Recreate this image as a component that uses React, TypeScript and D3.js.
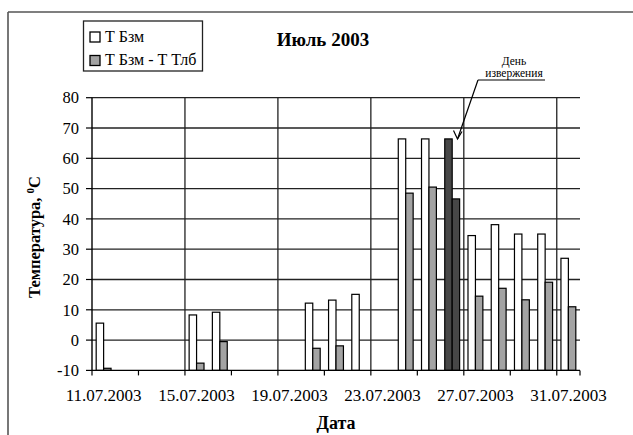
import React from "react";
import * as d3 from "d3";

const dates = [
  "11.07.2003", "12.07.2003", "13.07.2003", "14.07.2003", "15.07.2003",
  "16.07.2003", "17.07.2003", "18.07.2003", "19.07.2003", "20.07.2003",
  "21.07.2003", "22.07.2003", "23.07.2003", "24.07.2003", "25.07.2003",
  "26.07.2003", "27.07.2003", "28.07.2003", "29.07.2003", "30.07.2003",
  "31.07.2003",
];
const tBzm: (number | null)[] = [
  5.6, null, null, null, 8.3, 9.2, null, null, null, 12.2, 13.2, 15.1, null,
  66.4, 66.4, 66.4, 34.5, 38.1, 35.0, 35.0, 27.0,
];
const tDiff: (number | null)[] = [
  -9.3, null, null, null, -7.6, -0.5, null, null, null, -2.7, -1.9, null, null,
  48.5, 50.5, 46.6, 14.5, 17.1, 13.3, 19.1, 11.0,
];
const eruptionDate = "26.07.2003";
const yTicks = [-10, 0, 10, 20, 30, 40, 50, 60, 70, 80];
const seriesNames = ["Т Бзм", "Т Бзм - Т Тлб"];

const W = 633;
const H = 435;
const serif = "Liberation Serif, Times New Roman, serif";

export default function App() {
  const x = d3.scaleBand<string>().domain(dates).range([92, 580]).padding(0);
  const y = d3.scaleLinear().domain([-10, 80]).range([370.4, 97.7]);
  const bw = x.bandwidth();
  const barW = bw * 0.32;
  const off = (bw - 2 * barW) / 2;
  const base = y(-10);

  const gridColor = "#222";
  const grayFill = "#a3a3a3";
  const darkFill = "#474747";

  const boundaries = d3.range(0, dates.length + 1).map((i) => 92 + i * bw);
  const ts = { fontFamily: serif };

  return (
    <svg
      width={W}
      height={H}
      style={{ position: "absolute", left: 0, top: 0, background: "#fff", fontFamily: serif }}
    >
      <rect x={0} y={0} width={W} height={H} fill="#fff" />
      {/* outer frame */}
      <line x1={8} y1={12} x2={W} y2={12} stroke="#555" strokeWidth={1.6} />
      <line x1={8} y1={12} x2={8} y2={H} stroke="#555" strokeWidth={1.6} />

      {/* horizontal gridlines */}
      {yTicks.filter((t) => t > -10).map((t) => (
        <line key={"h" + t} x1={92} x2={580} y1={y(t)} y2={y(t)} stroke={gridColor} strokeWidth={1.3} />
      ))}
      {/* vertical gridlines */}
      {boundaries.filter((_, i) => i > 0 && i % 4 === 0).map((bx, i) => (
        <line key={"v" + i} x1={bx} x2={bx} y1={y(80)} y2={base} stroke={gridColor} strokeWidth={1.3} />
      ))}

      {/* bars */}
      {dates.map((d, i) => {
        const x0 = (x(d) as number) + off;
        const hl = d === eruptionDate;
        const v1 = tBzm[i];
        const v2 = tDiff[i];
        return (
          <g key={d}>
            {v1 !== null && (
              <rect x={x0} y={y(v1)} width={barW} height={base - y(v1)}
                fill={hl ? darkFill : "#fff"} stroke="#000" strokeWidth={1.2} />
            )}
            {v2 !== null && (
              <rect x={x0 + barW} y={y(v2)} width={barW} height={base - y(v2)}
                fill={hl ? darkFill : grayFill} stroke="#000" strokeWidth={1.2} />
            )}
          </g>
        );
      })}

      {/* axes */}
      <line x1={92} x2={92} y1={y(80)} y2={base} stroke="#000" strokeWidth={1.4} />
      <line x1={92} x2={580} y1={base} y2={base} stroke="#000" strokeWidth={1.4} />
      {yTicks.map((t) => (
        <g key={"yt" + t}>
          <line x1={86} x2={92} y1={y(t)} y2={y(t)} stroke="#000" strokeWidth={1.2} />
          <text style={ts} x={79} y={y(t)} dy="0.35em" textAnchor="end" fontSize={16.5}>{t}</text>
        </g>
      ))}
      {boundaries.filter((_, i) => i % 2 === 0 || i === dates.length).map((bx, i) => (
        <line key={"xt" + i} x1={bx} x2={bx} y1={base} y2={base + 5} stroke="#000" strokeWidth={1.2} />
      ))}
      {dates.filter((_, i) => i % 4 === 0).map((d) => (
        <text style={ts} key={"xl" + d} x={(x(d) as number) + bw / 2} y={401} textAnchor="middle" fontSize={17}>{d}</text>
      ))}

      {/* axis titles */}
      <text style={ts} x={336} y={429} textAnchor="middle" fontSize={18} fontWeight="bold">Дата</text>
      <text style={ts} transform="translate(40,237) rotate(-90)" textAnchor="middle" fontSize={16.5} fontWeight="bold">
        Температура, <tspan dy={-6} fontSize={11}>0</tspan><tspan dy={6}>C</tspan>
      </text>

      {/* title */}
      <text style={ts} x={323} y={46} textAnchor="middle" fontSize={19} fontWeight="bold">Июль 2003</text>

      {/* legend */}
      <rect x={83.5} y={21} width={119} height={50} fill="#fff" stroke="#222" strokeWidth={1.3} />
      <rect x={90} y={32} width={10} height={10} fill="#fff" stroke="#000" strokeWidth={1.3} />
      <text style={ts} x={105} y={41.5} fontSize={16}>{seriesNames[0]}</text>
      <rect x={90} y={55.5} width={10} height={10} fill={grayFill} stroke="#000" strokeWidth={1.3} />
      <text style={ts} x={105} y={65} fontSize={16}>{seriesNames[1]}</text>

      {/* annotation */}
      <text style={ts} x={514} y={65} textAnchor="middle" fontSize={11.5}>День</text>
      <text style={ts} x={514} y={77} textAnchor="middle" fontSize={11.5}>извержения</text>
      <line x1={478} y1={80} x2={545} y2={80} stroke="#000" strokeWidth={1.2} />
      <line x1={478} y1={80} x2={457.5} y2={139} stroke="#000" strokeWidth={1.2} />
      <path d="M453.5,130.5 L457.5,139 L462,131.5" fill="none" stroke="#000" strokeWidth={1.2} />
    </svg>
  );
}
